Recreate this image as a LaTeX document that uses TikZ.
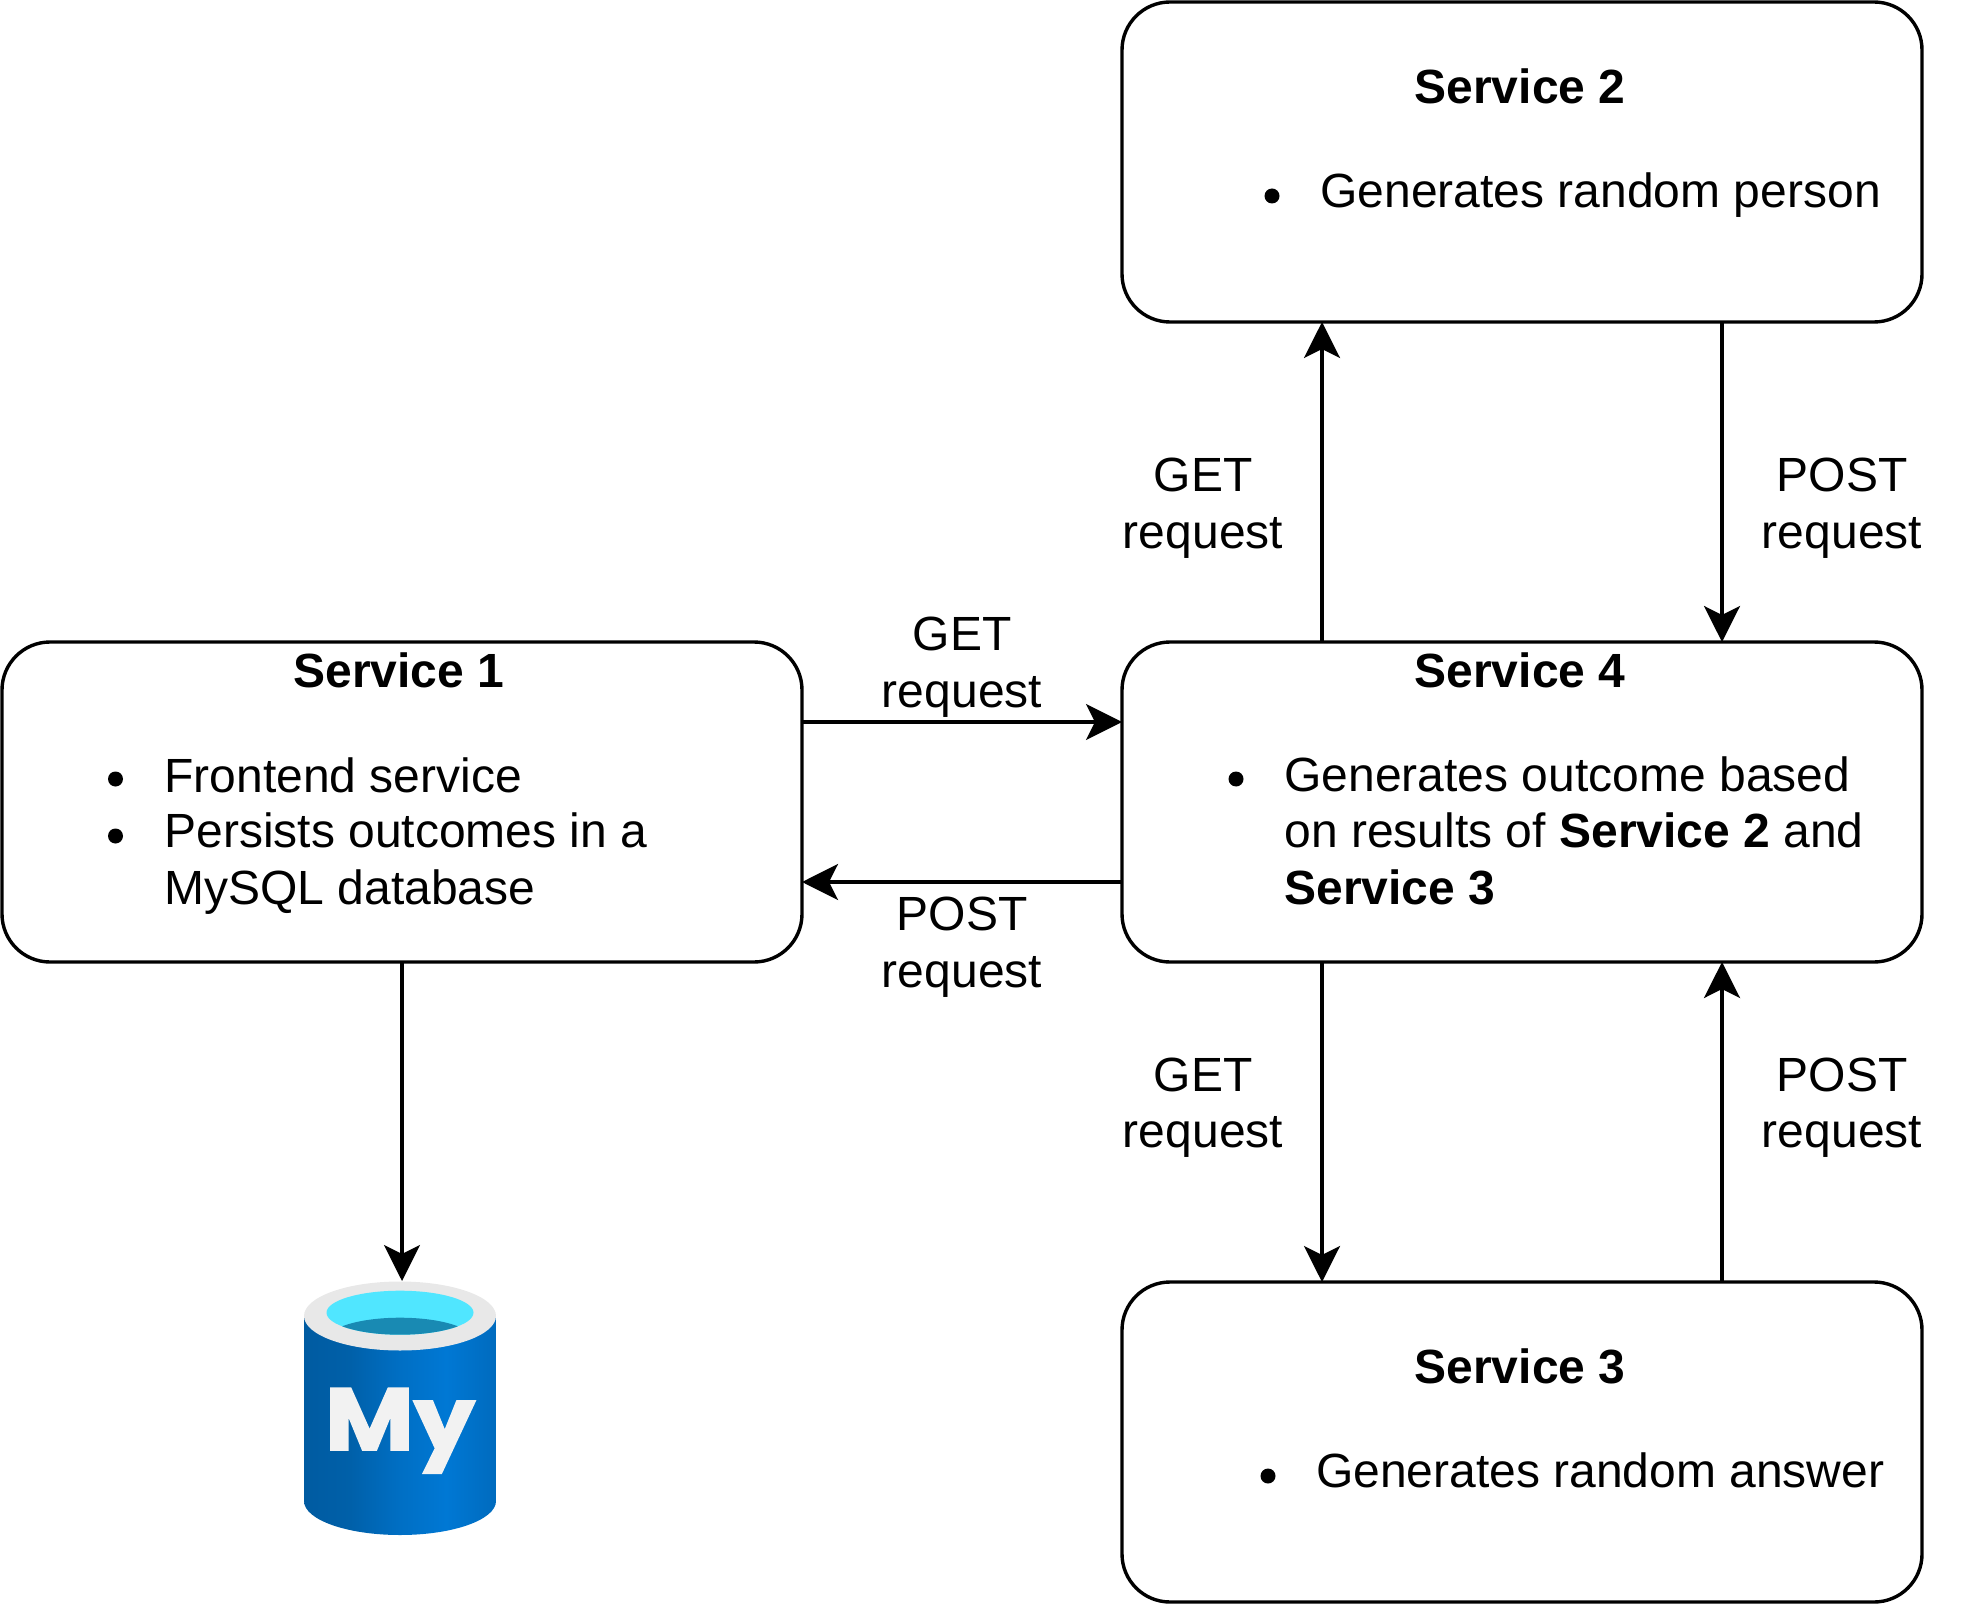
\documentclass[tikz,border=0pt]{standalone}
\usepackage{fontspec}
\usetikzlibrary{arrows.meta}
\setmainfont{Liberation Sans}
\newfontfamily\logofont[BoldFeatures={FakeBold=2}]{Poppins}
\definecolor{dbgrey}{HTML}{E8E8E8}
\definecolor{dbcyan}{HTML}{50E6FF}
\definecolor{dbteal}{HTML}{198AB3}
\definecolor{dbmark}{HTML}{F2F2F2}
\definecolor{dbA}{HTML}{005BA1}
\definecolor{dbB}{HTML}{0060A9}
\definecolor{dbC}{HTML}{006FC4}
\definecolor{dbD}{HTML}{0078D4}
\definecolor{dbE}{HTML}{006BBE}
\pgfdeclarehorizontalshading{dbbody}{100bp}{color(0bp)=(dbA); color(25bp)=(dbA); color(37bp)=(dbB); color(50bp)=(dbC); color(62bp)=(dbD); color(75bp)=(dbE); color(100bp)=(dbE)}
\tikzset{
    every node/.style={font=\fontsize{24pt}{28.2pt}\selectfont, inner sep=0pt, outer sep=0pt},
    svcbox/.style={draw, rounded corners=24pt, line width=1.7pt, minimum width=400pt, minimum height=160pt},
    svctitle/.style={anchor=base, font=\fontsize{24pt}{28.2pt}\selectfont\bfseries},
    svctext/.style={anchor=base west, align=left},
    svcdot/.style={circle, fill=black, minimum size=7.5pt},
    reqlabel/.style={anchor=base, align=center},
    flowline/.style={draw, line width=1.7pt, -{Stealth[length=18pt, width=18pt, inset=4.5pt]}}
}
\begin{document}
\begin{tikzpicture}[x=0.5pt, y=-0.5pt]
    \useasboundingbox (0,0) rectangle (1964,1604);
    \foreach \name/\x/\y in {svc1/402/802, svc2/1522/162, svc3/1522/1442, svc4/1522/802} {
        \node[svcbox] (\name) at (\x,\y) {};
    }
    \foreach \name/\x/\y/\txt in {title1/399/687/Service 1, title2/1520/104/Service 2, title3/1520/1383/Service 3, title4/1520/687/Service 4} {
        \node[svctitle] (\name) at (\x,\y) {\txt};
    }
    % bullets
    \foreach \name/\x/\y in {dot1a/115.5/779, dot1b/115.5/836, dot2a/1272/196, dot3a/1268/1476, dot4a/1236/779} {
        \node[svcdot] (\name) at (\x,\y) {};
    }
    \node[svctext] (item1a) at (164.5,792) {Frontend service};
    \node[svctext] (item1b) at (164.5,904) {Persists outcomes in a\\MySQL database};
    \node[svctext] (item2a) at (1320.5,208) {Generates random person};
    \node[svctext] (item3a) at (1316,1487) {Generates random answer};
    \node[svctext] (item4a) at (1284.5,904) {Generates outcome based\\on results of \textbf{Service 2} and\\\textbf{Service 3}};

    % database icon
    \path[shading=dbbody] (304,1316) -- (304,1501) arc[start angle=180, end angle=0, x radius=96, y radius=34] -- (496,1316) -- cycle;
    \fill[dbgrey] (400,1316) ellipse[x radius=96, y radius=34.5];
    \fill[dbcyan] (400,1312.7) ellipse[x radius=73.5, y radius=22];
    \begin{scope}
        \clip (400,1312.7) ellipse[x radius=73.5, y radius=22];
        \fill[dbteal] (400,1339.7) ellipse[x radius=73, y radius=22];
    \end{scope}
    \node[anchor=base, text=dbmark, font=\fontsize{44pt}{44pt}\logofont\bfseries, xscale=1.1] (dblogo) at (400,1450) {My};
    \coordinate (dbtop) at (402,1281);

    \draw[flowline] ([yshift=40pt]svc1.east) -- ([yshift=40pt]svc4.west);
    \draw[flowline] ([yshift=-40pt]svc4.west) -- ([yshift=-40pt]svc1.east);
    \draw[flowline] ([xshift=-100pt]svc4.north) -- ([xshift=-100pt]svc2.south);
    \draw[flowline] ([xshift=100pt]svc2.south) -- ([xshift=100pt]svc4.north);
    \draw[flowline] ([xshift=-100pt]svc4.south) -- ([xshift=-100pt]svc3.north);
    \draw[flowline] ([xshift=100pt]svc3.north) -- ([xshift=100pt]svc4.south);
    \draw[flowline] (svc1.south) -- (dbtop);

    \foreach \name/\x/\y/\txt in {lab14/962/707/GET, lab41/962/987/POST, lab42/1203/548/GET, lab24/1842/548/POST, lab43/1203/1147.5/GET, lab34/1842/1147.5/POST} {
        \node[reqlabel] (\name) at (\x,\y) {\txt\\request};
    }
\end{tikzpicture}
\end{document}
